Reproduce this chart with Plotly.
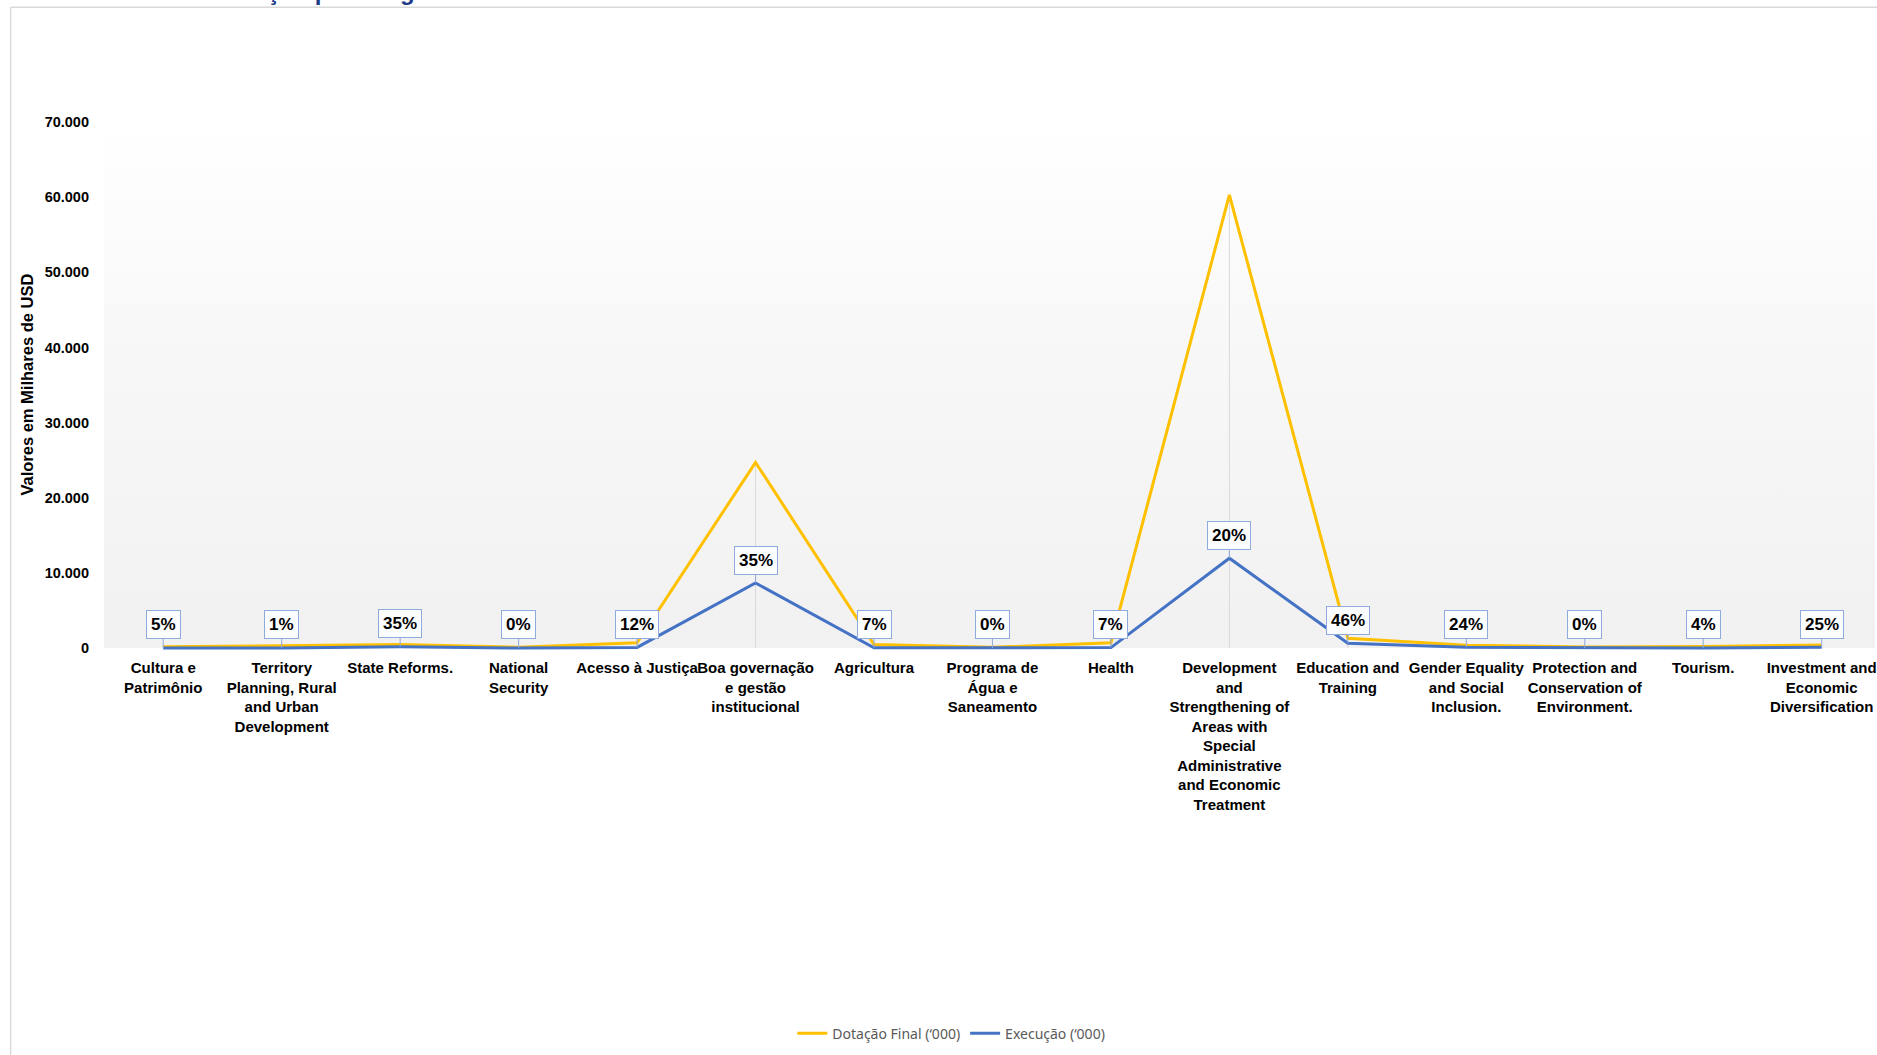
import plotly.graph_objects as go

# ---------------- data ----------------
categories = [
    "Cultura e<br>Patrimônio",
    "Territory<br>Planning, Rural<br>and Urban<br>Development",
    "State Reforms.",
    "National<br>Security",
    "Acesso à Justiça",
    "Boa governação<br>e gestão<br>institucional",
    "Agricultura",
    "Programa de<br>Água e<br>Saneamento",
    "Health",
    "Development<br>and<br>Strengthening of<br>Areas with<br>Special<br>Administrative<br>and Economic<br>Treatment",
    "Education and<br>Training",
    "Gender Equality<br>and Social<br>Inclusion.",
    "Protection and<br>Conservation of<br>Environment.",
    "Tourism.",
    "Investment and<br>Economic<br>Diversification",
]
dotacao = [150, 300, 450, 100, 700, 24700, 450, 90, 700, 60300, 1300, 380, 130, 200, 400]
execucao = [8, 3, 160, 0, 80, 8650, 30, 0, 50, 11950, 620, 90, 0, 8, 100]
pct_labels = ["5%", "1%", "35%", "0%", "12%", "35%", "7%", "0%", "7%", "20%",
              "46%", "24%", "0%", "4%", "25%"]
y_ticks = [0, 10000, 20000, 30000, 40000, 50000, 60000, 70000]

series_names = ["Dotação Final (‘000)", "Execução (‘000)"]
y_title = "Valores em Milhares de USD"
chart_title = "Execução por Programa"

# ---------------- layout geometry (page pixels) ----------------
W, H = 1877, 1055
L, R = 103.5, W          # plot left / right
T, B0 = 121.7, 648.0     # y of 70000 and y of 0
ymax = 70000
ymin = -400
ppu = (B0 - T) / ymax
B = B0 + (-ymin) * ppu   # plot bottom
x_range = [-0.5, 14.45]

def px_x(p):
    return (p - L) / (R - L)

def px_y(p):
    return (B - p) / (B - T)

SANS = "Liberation Sans, Arial, sans-serif"

idx = list(range(len(categories)))

fig = go.Figure()

# gradient plot background
fig.add_trace(go.Scatter(
    x=[x_range[0], x_range[1], x_range[1], x_range[0], x_range[0]],
    y=[0, 0, ymax, ymax, 0],
    mode="lines", line=dict(width=0), fill="toself",
    fillgradient=dict(type="vertical",
                      colorscale=[[0, "#f1f1f1"], [0.6, "#f8f8f8"], [1, "#ffffff"]]),
    hoverinfo="skip", showlegend=False,
))

# drop lines
dx, dy = [], []
for i in idx:
    dx += [i, i, None]
    dy += [0, max(dotacao[i], execucao[i]), None]
fig.add_trace(go.Scatter(x=dx, y=dy, mode="lines",
                         line=dict(color="#d9d9d9", width=1),
                         hoverinfo="skip", showlegend=False))

fig.add_trace(go.Scatter(x=idx, y=dotacao, mode="lines", name=series_names[0],
                         line=dict(color="#FFC000", width=3)))
fig.add_trace(go.Scatter(x=idx, y=execucao, mode="lines", name=series_names[1],
                         line=dict(color="#4472C4", width=3)))

# percentage callouts
for i in idx:
    fig.add_annotation(
        x=i, y=execucao[i], xref="x", yref="y",
        text="<b>%s</b>" % pct_labels[i],
        showarrow=True, arrowhead=0, arrowwidth=1, arrowcolor="#8faadc",
        ax=0, ay=-23, standoff=0,
        bgcolor="#fbfcfe", bordercolor="#8faadc", borderwidth=1, borderpad=4,
        font=dict(family=SANS, size=17, color="#000000"),
    )

# y-axis title
fig.add_annotation(
    x=px_x(26), y=px_y((T + B0) / 2), xref="paper", yref="paper",
    xanchor="center", yanchor="middle",
    text="<b>%s</b>" % y_title, textangle=-90, showarrow=False,
    font=dict(family=SANS, size=16.5, color="#000000"),
)

# chart title (mostly above the visible page, as in the reference)
fig.add_annotation(
    x=px_x(195), y=px_y(6), xref="paper", yref="paper",
    xanchor="left", yanchor="bottom", showarrow=False, borderpad=0,
    text="<b>%s</b>" % chart_title,
    font=dict(family=SANS, size=24, color="#1f3c88"),
)

# frame lines
fig.add_shape(type="line", xref="paper", yref="paper",
              x0=px_x(10), x1=px_x(W + 5), y0=px_y(7), y1=px_y(7),
              line=dict(color="#d9d9d9", width=1.5))
fig.add_shape(type="line", xref="paper", yref="paper",
              x0=px_x(10), x1=px_x(10), y0=px_y(7), y1=px_y(H + 5),
              line=dict(color="#d9d9d9", width=1.5))

fig.update_layout(
    width=W, height=H,
    margin=dict(l=L, r=0, t=T, b=H - B, pad=0),
    paper_bgcolor="#ffffff", plot_bgcolor="#ffffff",
    separators=",.",
    showlegend=True,
    legend=dict(orientation="h", x=px_x(952), xanchor="center",
                y=px_y(1034), yanchor="middle",
                font=dict(family="Noto Sans, Open Sans, sans-serif", size=14, color="#595959"),
                bgcolor="rgba(0,0,0,0)", itemwidth=30, tracegroupgap=0),
    xaxis=dict(range=x_range, tickmode="array", tickvals=idx, ticktext=categories,
               tickangle=0, showgrid=False, showline=False, zeroline=False, ticks="",
               tickfont=dict(family=SANS, size=15, color="#000000", weight="bold"),
               ticklabelstandoff=6, ticklabeloverflow="allow"),
    yaxis=dict(range=[ymin, ymax], tickmode="array", tickvals=y_ticks,
               tickformat=",.0f", showgrid=False, showline=False,
               zeroline=True, zerolinecolor="#d9d9d9", zerolinewidth=1, ticks="",
               tickfont=dict(family=SANS, size=14.5, color="#000000", weight="bold"),
               ticklabelstandoff=14),
)

fig.write_html("out.html", config={"displayModeBar": False},
               post_script="document.body.style.margin='0px';")
